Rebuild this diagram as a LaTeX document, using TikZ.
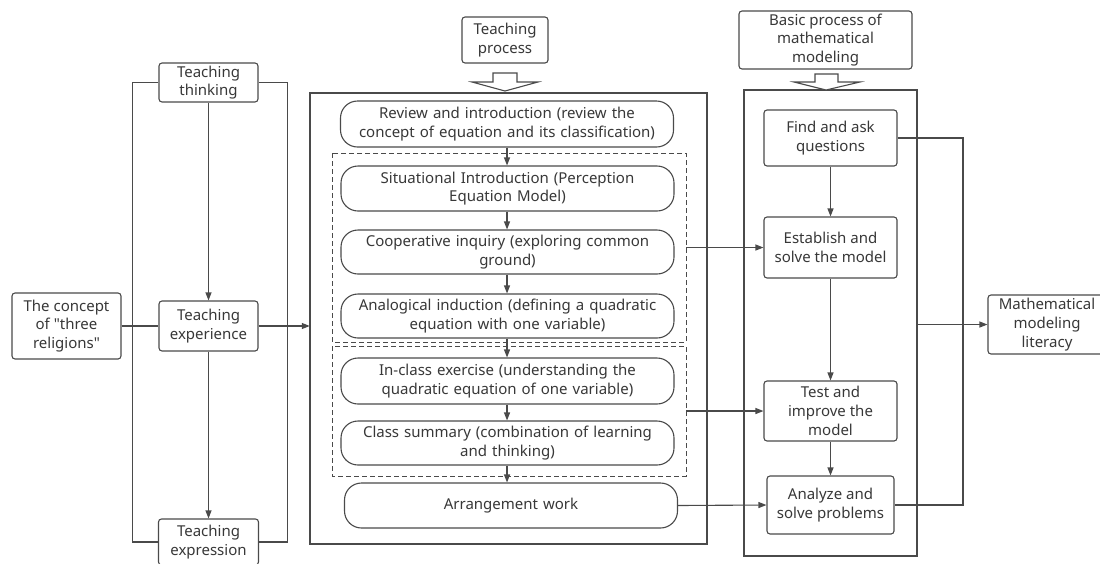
\documentclass[tikz,border=0pt]{standalone}
\usepackage{fontspec}
\setmainfont{Noto Sans}[Ligatures=TeXOff]
\usetikzlibrary{arrows.meta}
\definecolor{ln}{HTML}{4A4A4A}
\definecolor{tx}{HTML}{383838}
\tikzset{
  base/.style={draw=ln, line width=1.1pt, fill=white, text=tx, align=center, inner sep=0pt,
    font=\fontsize{15}{18.8}\selectfont},
  rbox/.style={base, rounded corners=3pt},
  pill/.style={base, rounded corners=17pt, minimum width=333pt, text width=325pt},
  frame/.style={draw=ln, line width=1.1pt},
  dbox/.style={draw=ln, line width=1pt, dash pattern=on 5pt off 3pt},
  conn/.style={draw=ln, line width=1.1pt},
  arr/.style={conn, -{Triangle[length=8pt,width=6pt]}},
}
\begin{document}
\begin{tikzpicture}[x=1pt,y=-1pt]
\useasboundingbox (0,0) rectangle (1100,563);
\clip (0,0) rectangle (1100,563);
% frames
\draw[frame] (310,93) rectangle (707,544);
\draw[frame] (744,90) rectangle (917,556);
\draw[dbox] (332,153) rectangle (686,342);
\draw[dbox] (332,346) rectangle (686,476);
\node[draw=none, minimum width=354pt, minimum height=189pt, inner sep=0pt] (dash1) at (509,247.5) {};
\node[draw=none, minimum width=354pt, minimum height=130pt, inner sep=0pt] (dash2) at (509,411) {};
\node[draw=none, minimum width=397pt, minimum height=451pt, inner sep=0pt] (midbox) at (508.5,318.5) {};
\node[draw=none, minimum width=173pt, minimum height=466pt, inner sep=0pt] (rightbox) at (830.5,323) {};
% left nodes
\node[rbox, minimum width=109pt, minimum height=66pt] (concept) at (66.5,326) {The concept\\of "three\\religions"};
\node[rbox, minimum width=99pt, minimum height=39pt] (thinking) at (208.5,82.5) {Teaching\\thinking};
\node[rbox, minimum width=99pt, minimum height=50pt] (experience) at (208.5,326) {Teaching\\experience};
\node[rbox, minimum width=100pt, minimum height=46pt] (expression) at (208.5,542) {Teaching\\expression};
% middle
\node[rbox, minimum width=86pt, minimum height=46pt] (tproc) at (505,40) {Teaching\\process};
\node[pill, minimum height=46pt] (review) at (507,124) {Review and introduction (review the\\concept of equation and its classification)};
\node[pill, minimum height=45pt] (situ) at (507.5,188.5) {Situational Introduction (Perception\\Equation Model)};
\node[pill, minimum height=44pt] (coop) at (507.5,252) {Cooperative inquiry (exploring common\\ground)};
\node[pill, minimum height=44pt] (analog) at (507.5,316) {Analogical induction (defining a quadratic\\equation with one variable)};
\node[pill, minimum height=46pt] (inclass) at (507.5,381) {In-class exercise (understanding the\\quadratic equation of one variable)};
\node[pill, minimum height=44pt] (summary) at (507.5,443) {Class summary (combination of learning\\and thinking)};
\node[pill, minimum height=45pt] (arrange) at (511,505.5) {Arrangement work};
% right
\node[rbox, minimum width=173pt, minimum height=58pt] (bproc) at (825.5,40) {Basic process of\\mathematical\\modeling};
\node[rbox, minimum width=133pt, minimum height=56pt] (find) at (830.5,138) {Find and ask\\questions};
\node[rbox, minimum width=133pt, minimum height=61pt] (establish) at (830.5,247.5) {Establish and\\solve the model};
\node[rbox, minimum width=133pt, minimum height=60pt] (test) at (830.5,411) {Test and\\improve the\\model};
\node[rbox, minimum width=127pt, minimum height=58pt] (analyze) at (830.5,505) {Analyze and\\solve problems};
\node[rbox, minimum width=118pt, minimum height=59pt] (literacy) at (1047,324.5) {Mathematical\\modeling\\literacy};
% hollow arrows
\draw[frame, fill=white] (493,73) -- (517,73) -- (517,82) -- (538,82) -- (505,91) -- (472,82) -- (493,82) -- cycle;
\draw[frame, fill=white] (815,74) -- (838,74) -- (838,82) -- (860,82) -- (826,90) -- (794,82) -- (815,82) -- cycle;
% left connectors
\draw[arr] (thinking) -- (experience);
\draw[arr] (experience) -- (expression);
\draw[conn] (thinking.west) -- ++(-26,0) |- (expression.west);
\draw[conn] (thinking.east) -- ++(29,0) |- (expression.east);
\draw[conn] (concept.east) -- (experience.west);
\draw[arr] (experience.east) -- (experience.east -| midbox.west);
% middle chain
\draw[arr] (review.south -| 507,0) -- (situ.north -| 507,0);
\draw[arr] (situ.south -| 507,0) -- (coop.north -| 507,0);
\draw[arr] (coop.south -| 507,0) -- (analog.north -| 507,0);
\draw[arr] (analog.south -| 507,0) -- (inclass.north -| 507,0);
\draw[arr] (inclass.south -| 507,0) -- (summary.north -| 507,0);
\draw[arr] (summary.south -| 507,0) -- (arrange.north -| 507,0);
% to right
\draw[arr] (establish.west -| dash1.east) -- (establish.west);
\draw[arr] (test.west -| dash2.east) -- (test.west);
\draw[arr] (arrange.east) -- (analyze.west);
% right chain
\draw[arr] (find) -- (establish);
\draw[arr] (establish) -- (test);
\draw[arr] (test) -- (analyze);
\coordinate (rj) at (963,0);
\draw[conn] (find.east) -| (rj |- analyze.east) -- (analyze.east);
\draw[arr] (literacy.west -| rightbox.east) -- (literacy.west);
\end{tikzpicture}
\end{document}
